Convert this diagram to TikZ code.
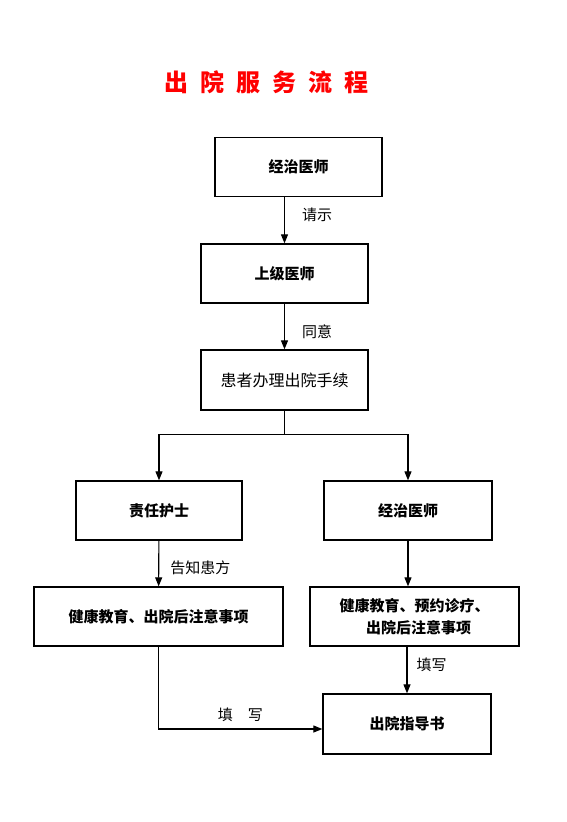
\documentclass[tikz,border=0pt]{standalone}
\usepackage{fontspec}
\newfontfamily\cjk{Noto Sans CJK SC}
\newfontfamily\titlefont{Noto Sans CJK SC}[LetterSpace=50]
\usetikzlibrary{arrows.meta,calc}

\begin{document}
\begin{tikzpicture}[x=1pt,y=-1pt,>={Triangle[length=9pt,width=7pt]},
  box/.style={rectangle,draw,line width=1.3pt,minimum height=59pt,inner sep=2pt,
    font=\cjk\bfseries\fontsize{15}{22}\selectfont,align=center},
  plainbox/.style={box,font=\cjk\fontsize{16}{22}\selectfont},
  arc/.style={->,line width=1.1pt},
  lbl/.style={font=\cjk\fontsize{15}{18}\selectfont,inner sep=1pt}]
  \useasboundingbox (0,0) rectangle (567,822);
  \node[font=\titlefont\bfseries\fontsize{24}{28}\selectfont,text=red] (title) at (266,82) {出院服务流程};
  \node[box,minimum width=167pt] (doc) at (298.5,167) {经治医师};
  \node[box,minimum width=167pt] (senior) at (284.5,273.5) {上级医师};
  \node[plainbox,minimum width=167pt,minimum height=60pt] (proc) at (284.5,380) {患者办理出院手续};
  \node[box,minimum width=166pt] (nurse) at (159,510.5) {责任护士};
  \node[box,minimum width=168pt] (doc2) at (408,510.5) {经治医师};
  \node[box,minimum width=249pt] (edu) at (158.5,616.5) {健康教育、出院后注意事项};
  \node[box,minimum width=209pt] (edu2) at (414.5,616.5) {健康教育、预约诊疗、\\\hspace{8pt}出院后注意事项};
  \node[box,minimum width=168pt,minimum height=60pt] (guide) at (407,724) {出院指导书};
  % main chain
  \draw[arc] (senior.north |- doc.south) -- node[lbl,right=16pt,yshift=5pt] {请示} (senior.north);
  \draw[arc] (senior) -- node[lbl,right=16pt,yshift=-5pt] {同意} (proc);
  \draw[line width=1.1pt] (proc.south) -- ++(0,24) coordinate (split);
  \draw[arc] (split) -| (nurse.north);
  \draw[arc] (split) -| (doc2.north);
  % two branches
  \draw[arc] (nurse) -- node[lbl,right=10pt,yshift=-4pt] {告知患方} (edu);
  \draw[arc] (doc2.south) -- (doc2.south |- edu2.north);
  \draw[arc] (guide.north |- edu2.south) -- node[lbl,right=8pt,yshift=5pt] {填写} (guide.north);
  \draw[arc] (edu.south) |- node[lbl,pos=0.75,above=6pt] {填\hspace{15pt}写} ([yshift=-5pt]guide.west);
\end{tikzpicture}
\end{document}
